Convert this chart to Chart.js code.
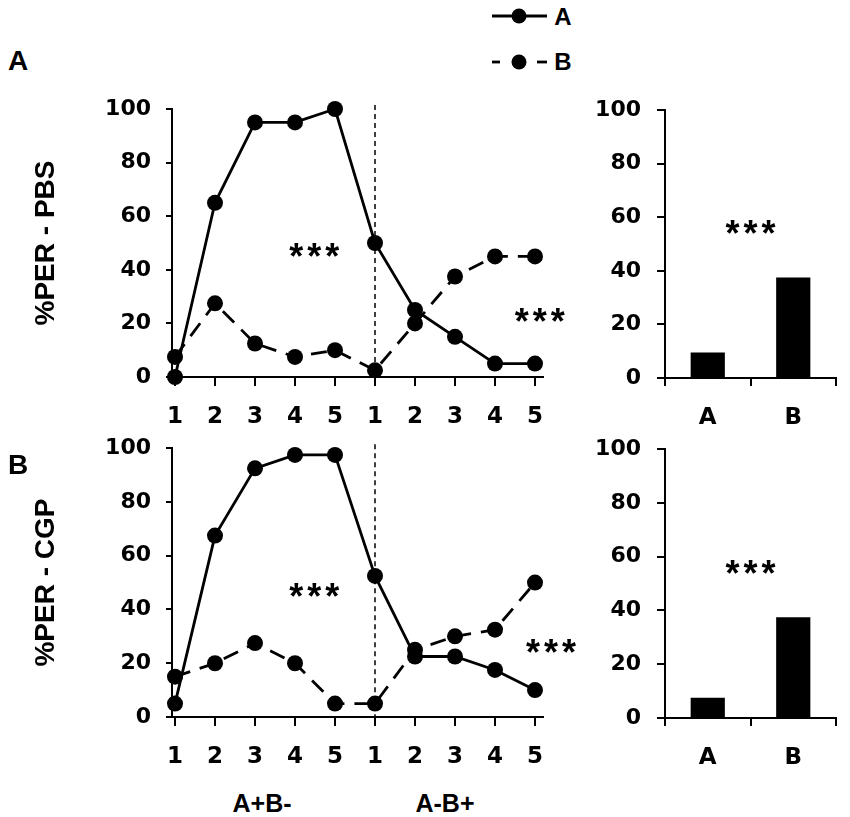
<!DOCTYPE html>
<html><head><meta charset="utf-8">
<script src="https://cdn.jsdelivr.net/npm/chart.js@4"></script>
<style>
html,body{margin:0;padding:0;background:#fff;width:850px;height:817px;overflow:hidden;position:relative;font-family:"Liberation Sans",Arial,sans-serif;}
canvas{position:absolute;}
.t{position:absolute;font-weight:bold;color:#000;line-height:1;white-space:nowrap;transform:translate(-50%,-50%);}
</style></head><body>
<canvas id="c1" width="585" height="360" style="left:0;top:80px"></canvas>
<canvas id="c2" width="585" height="360" style="left:0;top:420px"></canvas>
<canvas id="c3" width="270" height="360" style="left:580px;top:80px"></canvas>
<canvas id="c4" width="270" height="360" style="left:580px;top:420px"></canvas>

<div class="t" style="left:18px;top:61px;font-size:28px">A</div>
<div class="t" style="left:18px;top:465px;font-size:28px">B</div>
<div class="t" style="left:262px;top:803px;font-size:25px">A+B-</div>
<div class="t" style="left:445px;top:803px;font-size:25px">A-B+</div>

<svg style="position:absolute;left:480px;top:0" width="80" height="80">
  <line x1="12" y1="16" x2="67" y2="16" stroke="#000" stroke-width="2.8"/>
  <circle cx="39" cy="16" r="7.5" fill="#000"/>
  <line x1="12" y1="62" x2="20" y2="62" stroke="#000" stroke-width="2.8"/>
  <line x1="57" y1="62" x2="67" y2="62" stroke="#000" stroke-width="2.8"/>
  <circle cx="39" cy="62" r="7.5" fill="#000"/>
</svg>
<div class="t" style="left:563px;top:17px;font-size:24px">A</div>
<div class="t" style="left:563px;top:62px;font-size:24px">B</div>

<script>
// ---- data ----
const trialLabels = ['1','2','3','4','5','1','2','3','4','5'];
const groupLabels = ['A','B'];
const yTicks = [0,20,40,60,80,100];
const pbsA = [0,65,95,95,100,50,25,15,5,5];
const pbsB = [7.5,27.5,12.5,7.5,10,2.5,20,37.5,45,45];
const cgpA = [5,67.5,92.5,97.5,97.5,52.5,22.5,22.5,17.5,10];
const cgpB = [15,20,27.5,20,5,5,25,30,32.5,50];
const pbsBars = [9.5,37.5];
const cgpBars = [7.5,37.5];

const NUMFONT = 'DejaVu Sans';
const TXTFONT = 'Liberation Sans';

const overlay = {
  id:'overlay',
  beforeDatasetsDraw(chart, args, opts){
    if (opts.divider == null) return;
    const {ctx, scales:{x,y}} = chart;
    ctx.save();
    ctx.strokeStyle='#000'; ctx.lineWidth=1.5; ctx.setLineDash([5,4]);
    const px = x.getPixelForValue(opts.divider);
    ctx.beginPath(); ctx.moveTo(px, y.getPixelForValue(101.5)); ctx.lineTo(px, y.getPixelForValue(0)); ctx.stroke();
    ctx.restore();
  },
  afterDatasetsDraw(chart, args, opts){
    const {ctx, scales:{x,y}} = chart;
    ctx.save();
    ctx.fillStyle='#000';
    ctx.font = 'bold 36px "'+TXTFONT+'"';
    ctx.letterSpacing = '4px';
    ctx.textAlign='center'; ctx.textBaseline='alphabetic';
    (opts.stars||[]).forEach(s=>{
      ctx.fillText(s.text, x.getPixelForValue(s.x)+2, y.getPixelForValue(s.y)+21);
    });
    ctx.restore();
  }
};

function yScale(width, tl, pad, title){
  const o = {
    min:0, max:100,
    afterBuildTicks:s=>{s.ticks = yTicks.map(v=>({value:v}));},
    afterFit:s=>{s.width = width;},
    ticks:{color:'#000', padding:pad, font:{family:NUMFONT, size:22, weight:'bold'}},
    grid:{drawOnChartArea:false, drawTicks:true, tickLength:tl, color:'#000', lineWidth:2},
    border:{color:'#000', width:2}
  };
  if (title) o.title = {display:true, text:title, color:'#000', padding:{top:29,bottom:0}, font:{family:TXTFONT, size:28, weight:'bold'}};
  return o;
}

function lineChart(id, A, B, title, padTop, stars){
  const ds = (lbl, vals, dash)=>({
    label:lbl, data:vals.map((v,i)=>({x:i,y:v})),
    borderColor:'#000', backgroundColor:'#000', borderWidth:2.8, borderDash:dash,
    pointRadius:8, pointHoverRadius:8, pointBackgroundColor:'#000', pointBorderWidth:0,
    tension:0, clip:false
  });
  return new Chart(document.getElementById(id), {
    type:'line',
    data:{datasets:[ds('A',A,[]), ds('B',B,[16,10])]},
    options:{
      responsive:false, animation:false, events:[],
      layout:{padding:{top:padTop,left:0,right:42,bottom:0}},
      plugins:{legend:{display:false}, tooltip:{enabled:false}, overlay:{divider:5, stars:stars}},
      scales:{
        x:{type:'linear', min:-0.075, max:9.2,
          afterBuildTicks:s=>{s.ticks = trialLabels.map((_,i)=>({value:i}));},
          afterFit:s=>{s.height = 63;},
          ticks:{callback:v=>trialLabels[v], color:'#000', padding:17, maxRotation:0, autoSkip:false,
                 font:{family:NUMFONT, size:23, weight:'bold'}},
          grid:{drawOnChartArea:false, drawTicks:true, tickLength:9, color:'#000', lineWidth:2},
          border:{color:'#000', width:2}},
        y:yScale(172, 6, 15, title)
      }
    },
    plugins:[overlay]
  });
}

function barChart(id, vals, padTop){
  return new Chart(document.getElementById(id), {
    type:'bar',
    data:{labels:groupLabels, datasets:[{data:vals, backgroundColor:'#000', borderWidth:0, barPercentage:0.4, categoryPercentage:1}]},
    options:{
      responsive:false, animation:false, events:[],
      layout:{padding:{top:padTop,left:0,right:14,bottom:0}},
      plugins:{legend:{display:false}, tooltip:{enabled:false}, overlay:{stars:[{text:'***', x:0.5, y:57}]}},
      scales:{
        x:{afterFit:s=>{s.height = 62;},
          ticks:{color:'#000', padding:18, font:{family:NUMFONT, size:23, weight:'bold'}},
          grid:{drawOnChartArea:false, drawTicks:true, tickLength:8, color:'#000', lineWidth:2},
          border:{color:'#000', width:2}},
        y:yScale(85, 8, 16, null)
      }
    },
    plugins:[overlay]
  });
}

lineChart('c1', pbsA, pbsB, '%PER - PBS', 29, [{text:'***', x:3.48, y:48},{text:'***', x:9.12, y:24}]);
lineChart('c2', cgpA, cgpB, '%PER - CGP', 28, [{text:'***', x:3.48, y:48},{text:'***', x:9.4, y:27}]);
barChart('c3', pbsBars, 30);
barChart('c4', cgpBars, 29);
</script>
</body></html>
